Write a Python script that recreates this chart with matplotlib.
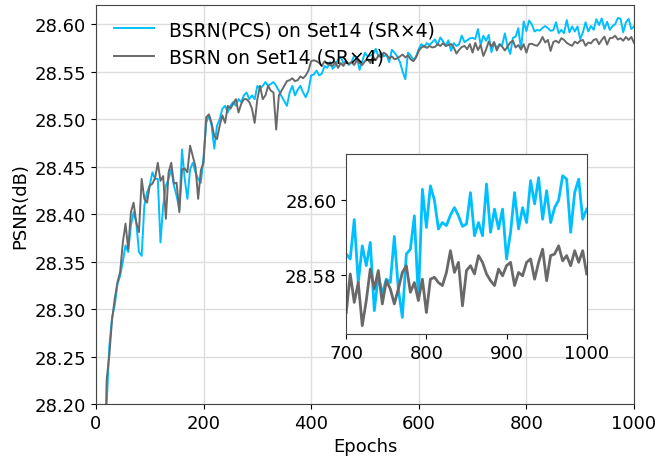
import numpy as np
import matplotlib
matplotlib.use("Agg")
import matplotlib.pyplot as plt

epochs = list(range(15, 1001, 5))

psnr_pcs = [
    28.08, 28.200, 28.262, 28.291, 28.304, 28.326, 28.335,
    28.350, 28.367, 28.360, 28.388, 28.402, 28.391, 28.360, 28.356, 28.409, 28.423,
    28.430, 28.444, 28.437, 28.437, 28.370, 28.409, 28.430, 28.437, 28.447, 28.430,
    28.419, 28.405, 28.468, 28.437, 28.416, 28.447, 28.454, 28.444, 28.437, 28.433,
    28.460, 28.496, 28.504, 28.493, 28.469, 28.493, 28.500, 28.511, 28.514, 28.507,
    28.514, 28.518, 28.514, 28.521, 28.518, 28.525, 28.528, 28.521, 28.525, 28.521,
    28.535, 28.532, 28.535, 28.539, 28.535, 28.537, 28.539, 28.535, 28.530, 28.524,
    28.519, 28.514, 28.528, 28.535, 28.525, 28.531, 28.535, 28.528, 28.523, 28.530,
    28.546, 28.547, 28.551, 28.546, 28.548, 28.556, 28.554, 28.560, 28.553, 28.556,
    28.563, 28.565, 28.559, 28.561, 28.557, 28.560, 28.567, 28.565, 28.552, 28.561,
    28.570, 28.566, 28.567, 28.568, 28.574, 28.566, 28.570, 28.566, 28.568, 28.560,
    28.573, 28.570, 28.566, 28.560, 28.550, 28.542, 28.570, 28.567, 28.562, 28.566,
    28.574, 28.579, 28.576, 28.580, 28.578, 28.581, 28.584, 28.578, 28.586, 28.582,
    28.577, 28.583, 28.572, 28.580, 28.577, 28.579, 28.588, 28.581, 28.583, 28.585,
    28.5856, 28.5843, 28.5948, 28.5780, 28.5878, 28.5825, 28.5887, 28.5705, 28.5798, 28.5749,
    28.5789, 28.5780, 28.5903, 28.5763, 28.5687, 28.5856, 28.5869, 28.5958, 28.5736, 28.6029,
    28.5927, 28.6038, 28.6000, 28.5923, 28.5940, 28.5932, 28.5960, 28.5980, 28.5958, 28.5930,
    28.5936, 28.6020, 28.5905, 28.5940, 28.5905, 28.6043, 28.5914, 28.5976, 28.5923, 28.5976,
    28.5843, 28.5914, 28.6020, 28.5923, 28.5980, 28.5940, 28.6052, 28.5990, 28.6060, 28.5949,
    28.6025, 28.5940, 28.5980, 28.6000, 28.6065, 28.6056, 28.5914, 28.6020, 28.6056, 28.5949,
    28.5976,
]

psnr_base = [
    28.10, 28.226, 28.252, 28.289, 28.311, 28.328, 28.339,
    28.370, 28.390, 28.363, 28.402, 28.412, 28.391, 28.381, 28.437, 28.416, 28.412,
    28.430, 28.432, 28.438, 28.454, 28.435, 28.440, 28.395, 28.444, 28.454, 28.432,
    28.433, 28.402, 28.447, 28.448, 28.444, 28.472, 28.461, 28.450, 28.416, 28.446,
    28.454, 28.502, 28.505, 28.496, 28.482, 28.479, 28.493, 28.504, 28.496, 28.514,
    28.511, 28.516, 28.521, 28.507, 28.516, 28.521, 28.521, 28.518, 28.511, 28.496,
    28.521, 28.535, 28.521, 28.525, 28.535, 28.530, 28.528, 28.489, 28.525, 28.530,
    28.535, 28.540, 28.541, 28.543, 28.540, 28.541, 28.545, 28.543, 28.546, 28.551,
    28.561, 28.562, 28.561, 28.559, 28.556, 28.561, 28.558, 28.557, 28.556, 28.560,
    28.554, 28.559, 28.556, 28.561, 28.558, 28.560, 28.557, 28.562, 28.559, 28.557,
    28.561, 28.563, 28.559, 28.566, 28.562, 28.567, 28.565, 28.570, 28.568, 28.564,
    28.566, 28.563, 28.564, 28.566, 28.568, 28.565, 28.567, 28.563, 28.561, 28.565,
    28.572, 28.5755, 28.577, 28.575, 28.577, 28.5755, 28.576, 28.579, 28.577, 28.580,
    28.577, 28.578, 28.579, 28.5755, 28.569, 28.573, 28.576, 28.577, 28.5737, 28.579,
    28.5700, 28.5803, 28.5727, 28.5780, 28.5665, 28.5732, 28.5816, 28.5763, 28.5812, 28.5723,
    28.5785, 28.5763, 28.5723, 28.5763, 28.5807, 28.5825, 28.5754, 28.5780, 28.5732, 28.5789,
    28.5700, 28.5789, 28.5794, 28.5780, 28.5772, 28.5807, 28.5865, 28.5807, 28.5834, 28.5718,
    28.5812, 28.5825, 28.5803, 28.5852, 28.5834, 28.5803, 28.5785, 28.5772, 28.5816, 28.5798,
    28.5825, 28.5834, 28.5772, 28.5807, 28.5798, 28.5834, 28.5843, 28.5789, 28.5834, 28.5869,
    28.5785, 28.5852, 28.5856, 28.5878, 28.5838, 28.5852, 28.5825, 28.5865, 28.5834, 28.5865,
    28.5803,
]

labels = ["BSRN(PCS) on Set14 (SR×4)", "BSRN on Set14 (SR×4)"]
colors = ["#00bfff", "#696969"]

x = np.array(epochs)
y_pcs = np.array(psnr_pcs)
y_base = np.array(psnr_base)

plt.rcParams["font.size"] = 13

fig = plt.figure(figsize=(6.57, 4.6), dpi=100)
ax = fig.add_axes([0.146, 0.1196, 0.819, 0.867])
ax.plot(x, y_pcs, color=colors[0], lw=1.4, label=labels[0])
ax.plot(x, y_base, color=colors[1], lw=1.4, label=labels[1])
ax.set_xlim(0, 1000)
ax.set_ylim(28.2, 28.62)
ax.set_xticks(range(0, 1001, 200))
ax.set_yticks(np.arange(28.20, 28.601, 0.05))
ax.yaxis.set_major_formatter(plt.FormatStrFormatter("%.2f"))
ax.grid(True, color="#dddddd", lw=1)
ax.set_axisbelow(True)
ax.set_xlabel("Epochs")
ax.set_ylabel("PSNR(dB)")
for s in ax.spines.values():
    s.set_color("#444444")
ax.legend(loc="upper left", bbox_to_anchor=(0.002, 1.005), frameon=False,
          fontsize=13.5, handlelength=2.13, labelspacing=0.45)

# zoomed inset for the last 300 epochs
ins = fig.add_axes([0.527, 0.272, 0.366, 0.391])
m = x >= 700
ins.plot(x[m], y_pcs[m], color=colors[0], lw=2)
ins.plot(x[m], y_base[m], color=colors[1], lw=2)
ins.set_xlim(700, 1000)
ins.set_ylim(28.5643, 28.6123)
ins.set_xticks([700, 800, 900, 1000])
ins.set_yticks([28.58, 28.60])
ins.yaxis.set_major_formatter(plt.FormatStrFormatter("%.2f"))
for s in ins.spines.values():
    s.set_color("#444444")

fig.savefig("out.png", dpi=100)
